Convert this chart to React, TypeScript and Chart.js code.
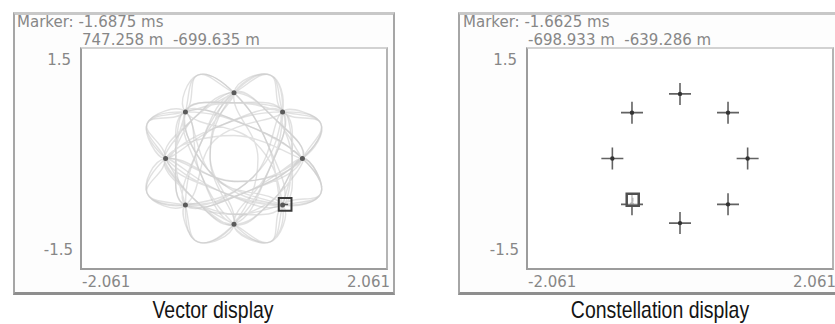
import React, { useEffect, useRef } from 'react';
import { Chart, registerables } from 'chart.js';

Chart.register(...registerables);

// ---------- data ----------
const X_MIN = -2.061;
const X_MAX = 2.061;
const Y_MIN = -1.5;
const Y_MAX = 1.5;

const X_TICK_LABELS = ['-2.061', '2.061'];
const Y_TICK_LABELS = ['1.5', '-1.5'];

// 8-PSK ideal symbol locations (I, Q)
const SYMBOL_I = [1, 0.71, 0, -0.71, -1, -0.71, 0, 0.71];
const SYMBOL_Q = [0, 0.71, 1, 0.71, 0, -0.71, -1, -0.71];

// Vector trajectories (I, Q)
const TRAJ_A_I = [
  0, -0.53, -0.71, 0.3, 0.71, 0.53, 0, 0.5, 0.71, -0.2, -1, -1.27, -0.71, 0.2, 1, 0.6, 0, -0.35, 0,
  -0.53, -0.71, -0.85, -0.71, -0.53, 0, 0.5, 0.71, 0.85, 0.71, 1.27, 1, 0.05, -1, -0.6, 0, 0.53, 0.71,
  -0.28, -0.71, -0.85, -0.71, 0.28, 0.71, 0.53, 0, -0.6, -1, -1.27, -0.71, 0.2, 1, 1.27, 0.71, 0, -0.71,
  -0.53, 0, 0.35, 0, 0.53, 0.71, 0.5, 0, -0.6, -1, 0, 1, 0.2, -0.71, -0.28, 0.71, -0.2, -1, -0.6, 0,
  -0.5, -0.71, 0.2, 1, 1.27, 0.71, 0, -0.71, -1.27, -1, -0.2, 0.71, 1.27, 1, 0.6, 0, -0.5, -0.71, 0,
  0.71, -0.28, -0.71, -1.27, -1, -0.2, 0.71, 0.85, 0.71, 0.53, 0, 0.6, 1, 0.2, -0.71, -0.5, 0, 0.6, 1,
];
const TRAJ_A_Q = [
  1, 1.27, 0.71, 0.25, -0.71, -1.27, -1, -0.2, 0.71, 0.5, 0, -0.53, -0.71, -0.5, 0, 0.6, 1, 0.05, -1,
  -1.27, -0.71, 0, 0.71, 1.27, 1, 0.2, -0.71, 0, 0.71, 0.53, 0, -0.35, 0, -0.6, -1, -1.27, -0.71,
  -0.3, 0.71, 0, -0.71, -0.28, 0.71, 1.27, 1, 0.6, 0, 0.53, 0.71, 0.5, 0, -0.53, -0.71, -0.85, -0.71,
  -1.27, -1, 0, 1, 1.27, 0.71, -0.2, -1, -0.6, 0, 0.35, 0, 0.5, 0.71, -0.28, -0.71, -0.5, 0, 0.6, 1,
  0.2, -0.71, -0.5, 0, 0.53, 0.71, 0.85, 0.71, 0.53, 0, -0.5, -0.71, -0.53, 0, -0.6, -1, -0.2, 0.71, 0.85,
  0.71, 0.28, -0.71, -0.53, 0, 0.5, 0.71, 0, -0.71, -1.27, -1, -0.6, 0, -0.5, -0.71, 0.2, 1, 0.6, 0,
];
const TRAJ_B_I = [
  1, 1.27, 0.71, 0.53, 0, -0.5, -0.71, -0.53, 0, 0.5, 0.71, 0, -0.71, -0.28, 0.71, 1.27, 1, 0.6, 0,
  -0.6, -1, -1.27, -0.71, -0.53, 0, 0.5, 0.71, 0, -0.71, -1.27, -1, 0, 1, 0.6, 0, -0.6, -1, -0.2, 0.71,
  1.27, 1, 0.2, -0.71, -0.85, -0.71, 0.2, 1, 1.27, 0.71, 0.53, 0, -0.5, -0.71, -1.27, -1, -1.27, -0.71,
  0.28, 0.71, 0.85, 0.71, -0.2, -1, -0.6, 0, -0.35, 0, 0.53, 0.71,
];
const TRAJ_B_Q = [
  0, 0.53, 0.71, 1.27, 1, 0.2, -0.71, -1.27, -1, -0.2, 0.71, 0.85, 0.71, -0.28, -0.71, -0.53, 0, -0.6, -1,
  -0.6, 0, 0.53, 0.71, 1.27, 1, 0.2, -0.71, -0.85, -0.71, -0.53, 0, -0.35, 0, 0.6, 1, 0.6, 0, 0.5, 0.71,
  0.53, 0, -0.5, -0.71, 0, 0.71, 0.5, 0, -0.53, -0.71, -1.27, -1, -0.2, 0.71, 0.53, 0, -0.53, -0.71,
  -0.28, 0.71, 0, -0.71, -0.5, 0, -0.6, -1, 0, 1, 1.27, 0.71,
];

const VECTOR_MARKER_TIME = '-1.6875 ms';
const VECTOR_MARKER_IQ = [0.747258, -0.699635];
const VECTOR_MARKER_TEXT = ['747.258 m', '-699.635 m'];

const CONST_MARKER_TIME = '-1.6625 ms';
const CONST_MARKER_IQ = [-0.698933, -0.639286];
const CONST_MARKER_TEXT = ['-698.933 m', '-639.286 m'];

const CAPTIONS = ['Vector display', 'Constellation display'];

// ---------- components ----------
const INSTR_FONT = '"DejaVu Sans", Verdana, sans-serif';
const CAP_FONT = '"Liberation Sans", Arial, sans-serif';

type PlotProps = { mode: 'vector' | 'constellation'; width: number; height: number };

function Plot({ mode, width, height }: PlotProps) {
  const ref = useRef<HTMLCanvasElement | null>(null);
  useEffect(() => {
    if (!ref.current) return;
    const symbols = SYMBOL_I.map((x, i) => ({ x, y: SYMBOL_Q[i] }));
    const datasets: any[] = [];
    if (mode === 'vector') {
      const m = { x: VECTOR_MARKER_IQ[0], y: VECTOR_MARKER_IQ[1] };
      const traj = (xs: number[], ys: number[], order: number) => ({
        data: xs.map((x, i) => ({ x, y: ys[i] })),
        showLine: true,
        tension: 0.42,
        borderColor: 'rgba(195,195,195,0.5)',
        borderWidth: 1.4,
        pointRadius: 0,
        order,
      });
      datasets.push(
        { data: [m], pointStyle: 'rect', pointRadius: 9, borderColor: '#3a3a3a', borderWidth: 2, backgroundColor: 'rgba(0,0,0,0)', order: 0 },
        { data: [m], pointStyle: 'line', pointRadius: 3, borderColor: '#555', borderWidth: 1.5, order: 1 },
        { data: symbols, pointStyle: 'circle', pointRadius: 2.5, backgroundColor: '#5a5a5a', borderWidth: 0, order: 2 },
        traj(TRAJ_A_I, TRAJ_A_Q, 3),
        traj(TRAJ_B_I, TRAJ_B_Q, 4),
      );
    } else {
      const m = { x: CONST_MARKER_IQ[0], y: CONST_MARKER_IQ[1] };
      datasets.push(
        { data: [m], pointStyle: 'rect', pointRadius: 8.5, borderColor: '#505050', borderWidth: 2.5, backgroundColor: 'rgba(255,255,255,0.6)', order: 0 },
        { data: [m], pointStyle: 'line', pointRadius: 2, rotation: 90, borderColor: '#444', borderWidth: 1.5, order: 1 },
        { data: symbols, pointStyle: 'circle', pointRadius: 2.2, backgroundColor: '#333', borderWidth: 0, order: 2 },
        { data: symbols, pointStyle: 'cross', pointRadius: 11, borderColor: 'rgba(70,70,70,0.85)', borderWidth: 1.6, order: 3 },
      );
    }
    const chart = new Chart(ref.current, {
      type: 'scatter',
      data: { datasets },
      options: {
        animation: false,
        responsive: false,
        maintainAspectRatio: false,
        events: [],
        layout: { padding: 0 },
        plugins: { legend: { display: false }, tooltip: { enabled: false } },
        scales: {
          x: { type: 'linear', min: X_MIN, max: X_MAX, display: false },
          y: { type: 'linear', min: Y_MIN, max: Y_MAX, display: false },
        },
      },
    } as any);
    return () => chart.destroy();
  }, [mode]);
  return <canvas ref={ref} width={width} height={height} style={{ display: 'block', width, height }} />;
}

const abs = (s: React.CSSProperties): React.CSSProperties => ({ position: 'absolute', ...s });

function Txt({ x, y, align, children }: { x: number; y: number; align?: 'left' | 'right'; children: React.ReactNode }) {
  const style: React.CSSProperties = {
    fontFamily: INSTR_FONT,
    fontSize: 15,
    lineHeight: '15px',
    color: '#878787',
    whiteSpace: 'pre',
    top: y,
  };
  if (align === 'right') return <div style={abs({ ...style, left: x - 120, width: 120, textAlign: 'right' })}>{children}</div>;
  return <div style={abs({ ...style, left: x })}>{children}</div>;
}

type PanelProps = {
  mode: 'vector' | 'constellation';
  frameLeft: number;
  frameWidth: number;
  rightBorder: boolean;
  plotLeft: number;
  markerTime: string;
  markerText: string[];
  textLeft: number;
};

function Panel(p: PanelProps) {
  const plotW = 304;
  const plotH = 219;
  const plotTop = 49;
  return (
    <>
      <div
        style={abs({
          left: p.frameLeft,
          top: 12,
          width: p.frameWidth,
          height: 277,
          borderLeft: '2px solid #a6a6a6',
          borderTop: '3px solid #c8c8c8',
          borderBottom: '3px solid #8e8e8e',
          borderRight: p.rightBorder ? '2px solid #a6a6a6' : 'none',
          background: '#fdfdfd',
        })}
      />
      <Txt x={p.textLeft} y={15}>{'Marker: ' + p.markerTime}</Txt>
      <Txt x={p.plotLeft} y={33}>{p.markerText[0] + '  ' + p.markerText[1]}</Txt>
      <Txt x={p.plotLeft - 11} y={53} align="right">{Y_TICK_LABELS[0]}</Txt>
      <Txt x={p.plotLeft - 9} y={243} align="right">{Y_TICK_LABELS[1]}</Txt>
      <Txt x={p.plotLeft} y={275}>{X_TICK_LABELS[0]}</Txt>
      <Txt x={p.plotLeft + plotW + 4} y={275} align="right">{X_TICK_LABELS[1]}</Txt>
      <div
        style={abs({
          left: p.plotLeft - 2,
          top: plotTop - 2,
          borderTop: '2px solid #d2d2d2',
          borderLeft: '2px solid #9c9c9c',
          borderBottom: '2px solid #9c9c9c',
          borderRight: '2px solid #b4b4b4',
          background: '#ffffff',
        })}
      >
        <Plot mode={p.mode} width={plotW} height={plotH} />
      </div>
    </>
  );
}

function Caption({ center, text }: { center: number; text: string }) {
  return (
    <div
      style={abs({
        left: center - 150,
        width: 300,
        top: 298,
        textAlign: 'center',
        fontFamily: CAP_FONT,
        fontSize: 24,
        lineHeight: '24px',
        color: '#141414',
        transform: 'scaleX(0.81)',
        transformOrigin: '50% 50%',
      })}
    >
      {text}
    </div>
  );
}

export default function App() {
  return (
    <div style={abs({ left: 0, top: 0, width: 835, height: 324, background: '#ffffff', overflow: 'hidden' })}>
      <Panel
        mode="vector"
        frameLeft={13}
        frameWidth={378}
        rightBorder={true}
        plotLeft={82}
        markerTime={VECTOR_MARKER_TIME}
        markerText={VECTOR_MARKER_TEXT}
        textLeft={17}
      />
      <Panel
        mode="constellation"
        frameLeft={458}
        frameWidth={400}
        rightBorder={false}
        plotLeft={528}
        markerTime={CONST_MARKER_TIME}
        markerText={CONST_MARKER_TEXT}
        textLeft={463}
      />
      <Caption center={213} text={CAPTIONS[0]} />
      <Caption center={660} text={CAPTIONS[1]} />
    </div>
  );
}
